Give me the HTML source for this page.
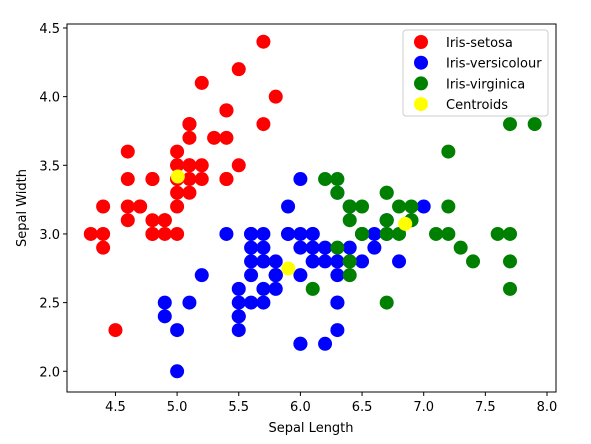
<!DOCTYPE html>
<html><head><meta charset="utf-8"><style>
body{margin:0;background:#fff;}
svg text{font-family:"DejaVu Sans","Liberation Sans",sans-serif;font-size:13px;fill:#000;}
</style></head><body>
<svg id="chart" width="591" height="439" xmlns="http://www.w3.org/2000/svg">
<rect x="0" y="0" width="591" height="439" fill="#fff"/>
<g id="marks"></g>
<rect x="67" y="24" width="489" height="368" fill="none" stroke="#000" stroke-width="1"/>
<g id="xticks"></g><g id="yticks"></g>
<text x="311" y="432" text-anchor="middle">Sepal Length</text>
<text x="26" y="208" text-anchor="middle" transform="rotate(-90 26 208)">Sepal Width</text>
<g id="legend"></g>
</svg>
<script>
const setosaX=[5.1,4.9,4.7,4.6,5.0,5.4,4.6,5.0,4.4,4.9,5.4,4.8,4.8,4.3,5.8,5.7,5.4,5.1,5.7,5.1,5.4,5.1,4.6,5.1,4.8,5.0,5.0,5.2,5.2,4.7,4.8,5.4,5.2,5.5,4.9,5.0,5.5,4.9,4.4,5.1,5.0,4.5,4.4,5.0,5.1,4.8,5.1,4.6,5.3,5.0];
const setosaY=[3.5,3.0,3.2,3.1,3.6,3.9,3.4,3.4,2.9,3.1,3.7,3.4,3.0,3.0,4.0,4.4,3.9,3.5,3.8,3.8,3.4,3.7,3.6,3.3,3.4,3.0,3.4,3.5,3.4,3.2,3.1,3.4,4.1,4.2,3.1,3.2,3.5,3.1,3.0,3.4,3.5,2.3,3.2,3.5,3.8,3.0,3.8,3.2,3.7,3.3];
const versiX=[7.0,6.4,6.9,5.5,6.5,5.7,6.3,4.9,6.6,5.2,5.0,5.9,6.0,6.1,5.6,6.7,5.6,5.8,6.2,5.6,5.9,6.1,6.3,6.1,6.4,6.6,6.8,6.7,6.0,5.7,5.5,5.5,5.8,6.0,5.4,6.0,6.7,6.3,5.6,5.5,5.5,6.1,5.8,5.0,5.6,5.7,5.7,6.2,5.1,5.7,5.8,4.9,5.7,5.8,5.6,6.3,6.2,6.1,6.3,6.3,6.0,5.8,6.0,5.9];
const versiY=[3.2,3.2,3.1,2.3,2.8,2.8,3.3,2.4,2.9,2.7,2.0,3.0,2.2,2.9,2.9,3.1,3.0,2.7,2.2,2.5,3.2,2.8,2.5,2.8,2.9,3.0,2.8,3.0,2.9,2.6,2.4,2.4,2.7,2.7,3.0,3.4,3.1,2.3,3.0,2.5,2.6,3.0,2.6,2.3,2.7,3.0,2.9,2.9,2.5,2.8,2.7,2.5,2.5,2.8,2.8,2.7,2.8,3.0,2.8,2.5,2.2,2.7,3.0,3.0];
const virgX=[6.3,7.1,6.3,6.5,7.6,7.3,6.7,7.2,6.5,6.4,6.8,6.4,6.5,7.7,7.7,6.9,7.7,6.7,7.2,6.4,7.2,7.4,7.9,6.4,6.1,7.7,6.3,6.4,6.9,6.7,6.9,6.8,6.7,6.7,6.5,6.2];
const virgY=[3.3,3.0,2.9,3.0,3.0,2.9,2.5,3.6,3.2,2.7,3.0,3.2,3.0,3.8,2.6,3.2,2.8,3.3,3.2,2.8,3.0,2.8,3.8,2.8,2.6,3.0,3.4,3.1,3.1,3.1,3.1,3.2,3.3,3.0,3.0,3.4];
const centX=[5.006,5.9016,6.85];
const centY=[3.418,2.7484,3.0737];
const xTicks=[4.5,5.0,5.5,6.0,6.5,7.0,7.5,8.0];
const yTicks=[2.0,2.5,3.0,3.5,4.0,4.5];
const legendLabels=["Iris-setosa","Iris-versicolour","Iris-virginica","Centroids"];

const NS="http://www.w3.org/2000/svg";
const X0=67,X1=556,Y0=24,Y1=392, xmin=4.107,xmax=8.073,ymin=1.849,ymax=4.529;
function sx(v){return X0+(v-xmin)/(xmax-xmin)*(X1-X0);}
function sy(v){return Y1-(v-ymin)/(ymax-ymin)*(Y1-Y0);}
function mk(t,a,p){const e=document.createElementNS(NS,t);for(const k in a)e.setAttribute(k,a[k]);p.appendChild(e);return e;}
const marks=document.getElementById('marks');
function series(xs,ys,color,name){
  for(let i=0;i<xs.length;i++){
    const c=mk('circle',{cx:sx(xs[i]),cy:sy(ys[i]),r:7,fill:color},marks);
    
    
  }
}
series(setosaX,setosaY,'#ff0000','setosa-point');
series(versiX,versiY,'#0000ff','versicolour-point');
series(virgX,virgY,'#008000','virginica-point');
series(centX,centY,'#ffff00','centroid-point');

const xg=document.getElementById('xticks');
xTicks.forEach(v=>{
  const x=sx(v);
  const l=mk('line',{x1:x,x2:x,y1:Y1,y2:Y1+4,stroke:'#000'},xg);
  
  
  const t=mk('text',{x:x,y:Y1+19,'text-anchor':'middle'},xg);
  t.textContent=v.toFixed(1);
  
  
});
const yg=document.getElementById('yticks');
yTicks.forEach(v=>{
  const y=sy(v);
  const l=mk('line',{x1:X0-4,x2:X0,y1:y,y2:y,stroke:'#000'},yg);
  
  
  const t=mk('text',{x:X0-7,y:y+5,'text-anchor':'end'},yg);
  t.textContent=v.toFixed(1);
  
  
});
const lg=document.getElementById('legend');
const box=mk('rect',{x:403,y:30,width:145,height:86,rx:3,fill:'#fff','fill-opacity':0.8,stroke:'#ccc'},lg);


const lcol=['#ff0000','#0000ff','#008000','#ffff00'];
legendLabels.forEach((s,i)=>{
  const y=42+i*20.7;
  const c=mk('circle',{cx:421,cy:y,r:7,fill:lcol[i]},lg);
  
  
  const t=mk('text',{x:446,y:y+5},lg);
  t.textContent=s;
  
  
});
</script>
</body></html>
